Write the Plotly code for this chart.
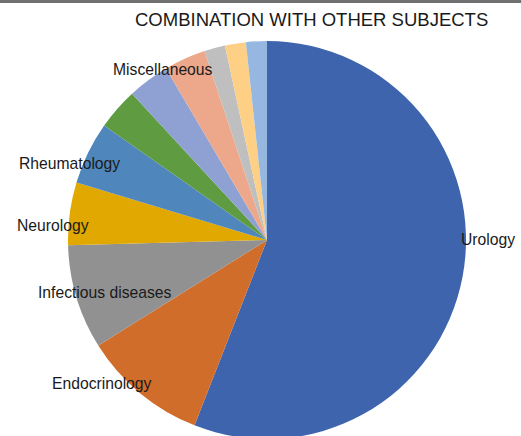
import plotly.graph_objects as go

# ---- data ----
categories = ["Urology", "Endocrinology", "Infectious diseases", "Neurology",
              "Rheumatology", "Subject 6", "Miscellaneous", "Subject 8",
              "Subject 9", "Subject 10", "Subject 11"]
counts = [33, 6, 5, 3, 3, 2, 2, 2, 1, 1, 1]
shown_labels = ["Urology", "Endocrinology", "Infectious diseases", "Neurology",
                "Rheumatology", "", "Miscellaneous", "", "", "", ""]
colors = ["#3D64AD", "#D16D2A", "#919191", "#E0A800", "#4F87BD", "#5F9B40",
          "#8FA1D3", "#EDA88B", "#BFBFBF", "#FDD086", "#96B8E0"]
title = "COMBINATION WITH OTHER SUBJECTS"

W, H = 521, 440  # page is cropped to 436 px tall, like the reference

fig = go.Figure(go.Pie(
    labels=categories,
    values=counts,
    sort=False,
    direction="clockwise",
    rotation=0,
    marker=dict(colors=colors, line=dict(width=0)),
    textinfo="none",
    hovertext=shown_labels,
    hoverinfo="skip",
    showlegend=False,
    domain=dict(x=[(267 - 199) / W, (267 + 199) / W],
                y=[(H - 439) / H, (H - 41) / H]),
))

# label placement (pixel centers of each shown label)
label_pos = {
    "Urology": (488, 240),
    "Endocrinology": (102, 383),
    "Infectious diseases": (105, 292),
    "Neurology": (53, 225),
    "Rheumatology": (69, 163),
    "Miscellaneous": (163, 69),
}
font_family = "Liberation Sans, Arial, Helvetica, sans-serif"
for name in shown_labels:
    if not name:
        continue
    px, py = label_pos[name]
    fig.add_annotation(x=px / W, y=1 - py / H, xref="paper", yref="paper",
                       text=name, showarrow=False, xanchor="center", yanchor="middle",
                       font=dict(family=font_family, size=15.7, color="#1a1a1a"))

fig.add_annotation(x=311.5 / W, y=1 - 20 / H, xref="paper", yref="paper",
                   text=title, showarrow=False, xanchor="center", yanchor="middle",
                   font=dict(family=font_family, size=18.5, color="#1a1a1a"))

# thin grey frame line along the top edge
fig.add_shape(type="line", xref="paper", yref="paper", x0=0, x1=1,
              y0=1 - 1.5 / H, y1=1 - 1.5 / H, layer="above",
              line=dict(color="#707070", width=3))

fig.update_layout(width=W, height=H, margin=dict(l=0, r=0, t=0, b=0),
                  paper_bgcolor="white", plot_bgcolor="white")

fig.write_html("out.html",
               config={"displayModeBar": False},
               post_script="document.body.style.margin='0';"
                           "document.body.style.overflow='hidden';"
                           "document.documentElement.style.overflow='hidden';")
